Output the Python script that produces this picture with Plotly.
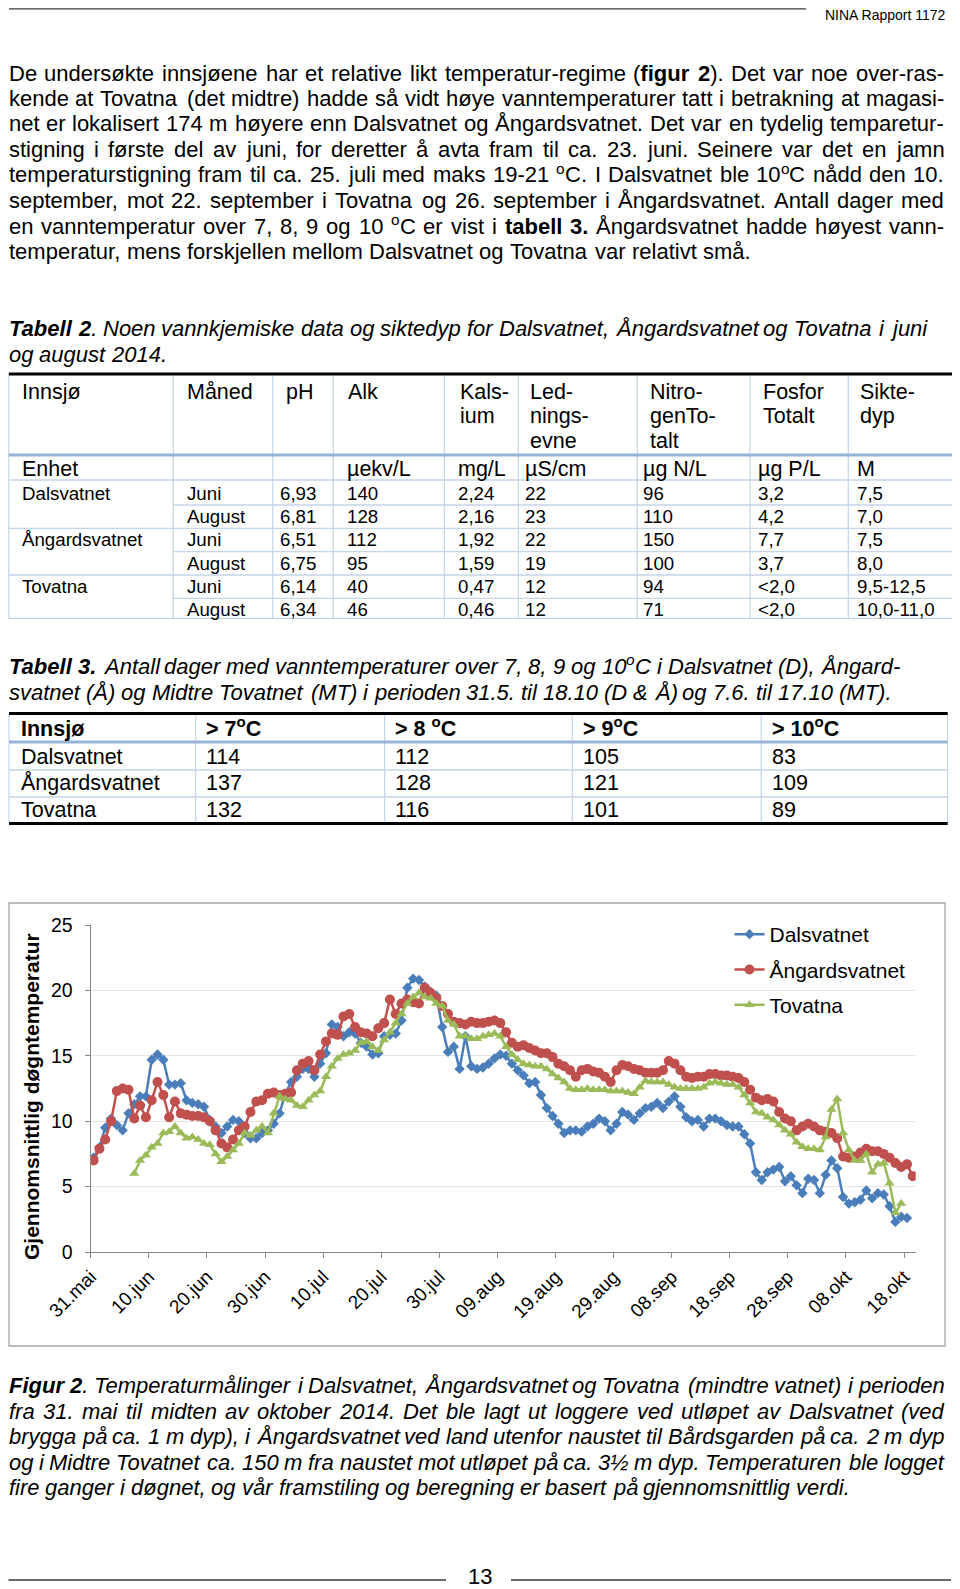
import re
import pandas as pd
import plotly.graph_objects as go

W, H = 960, 1589          # page size in the reference
OFF = 8                   # the browser body margin offsets the figure by 8 px
FW, FH = W - OFF, H - OFF  # figure size so that it exactly fills the window
FONT = "Liberation Sans, Arial, sans-serif"

# ---------------- chart data (daily mean water temperature, degC) ----------------
series_names = ["Dalsvatnet", "Ångardsvatnet", "Tovatna"]
series_colors = ["#4A7EBB", "#C0504D", "#9BBB59"]
series_symbols = ["diamond", "circle", "triangle-up"]

dals_start = "2014-05-31"
dals = [7.2, 8.0, 9.5, 10.2, 9.7, 9.3, 10.6, 11.3, 11.9, 11.9,
        14.7, 15.1, 14.7, 12.8, 12.8, 12.9, 11.6, 11.4, 11.3, 11.1,
        10.1, 9.6, 9.1, 9.6, 10.1, 10.0, 9.1, 8.7, 8.7, 9.1,
        9.3, 9.8, 10.6, 12.1, 13.0, 13.4, 14.0, 14.0, 13.4, 14.4,
        15.2, 17.4, 17.2, 16.5, 16.8, 16.7, 16.0, 15.7, 15.1, 15.2,
        16.5, 16.6, 16.7, 17.7, 20.2, 20.9, 20.8, 20.3, 19.9, 19.6,
        17.2, 15.3, 15.7, 14.0, 16.5, 14.2, 14.0, 14.1, 14.4, 14.8,
        15.1, 15.0, 14.4, 13.9, 13.5, 12.9, 13.0, 12.0, 11.0, 10.4,
        9.8, 9.1, 9.3, 9.3, 9.2, 9.6, 9.8, 10.2, 10.0, 9.3,
        9.8, 10.7, 10.5, 10.1, 10.6, 11.0, 11.1, 11.4, 11.0, 11.5,
        11.9, 11.1, 10.3, 10.0, 10.1, 9.6, 10.2, 10.2, 10.0, 9.7,
        9.6, 9.6, 9.0, 8.3, 6.1, 5.5, 6.1, 6.3, 6.5, 5.4,
        5.8, 5.1, 4.5, 5.6, 5.5, 4.5, 5.9, 7.0, 6.4, 4.2,
        3.7, 3.8, 4.0, 4.7, 4.1, 4.5, 4.4, 3.5, 2.3, 2.7,
        2.6]

angard_start = "2014-05-31"
angard = [7.0, 7.9, 8.6, 10.0, 12.3, 12.5, 12.4, 10.2, 11.2, 10.3,
          11.6, 13.0, 12.0, 10.3, 11.5, 10.6, 10.5, 10.4, 10.4, 10.3,
          10.0, 9.3, 8.3, 8.0, 8.6, 9.3, 9.6, 10.7, 11.5, 11.6,
          12.1, 12.2, 12.0, 12.1, 12.2, 13.9, 14.4, 14.6, 13.9, 15.1,
          16.1, 16.7, 16.6, 18.0, 18.2, 17.2, 16.8, 16.7, 16.5, 17.1,
          17.5, 19.3, 18.2, 19.0, 19.3, 19.1, 19.0, 20.2, 19.8, 19.4,
          18.8, 18.2, 17.6, 17.5, 17.4, 17.6, 17.5, 17.5, 17.6, 17.7,
          17.5, 16.8, 16.0, 15.7, 15.8, 15.6, 15.4, 15.2, 15.2, 14.9,
          14.4, 14.2, 13.9, 13.4, 13.9, 14.0, 13.8, 13.7, 13.4, 13.0,
          13.9, 14.3, 14.2, 14.0, 13.9, 13.7, 13.7, 13.7, 13.9, 14.6,
          14.4, 13.9, 13.4, 13.3, 13.4, 13.4, 13.6, 13.6, 13.5, 13.5,
          13.4, 13.3, 13.0, 12.4, 11.8, 11.6, 11.7, 11.5, 10.7, 10.2,
          10.0, 9.3, 9.6, 9.8, 9.6, 9.3, 9.2, 9.1, 8.7, 7.3,
          7.2, 7.3, 7.6, 7.9, 7.7, 7.7, 7.5, 7.2, 6.8, 6.5,
          6.7, 5.8]

tova_start = "2014-06-07"
tova = [6.0, 7.0, 7.4, 8.0, 8.3, 9.1, 9.2, 9.6, 9.1, 8.7,
        8.8, 8.6, 8.3, 8.2, 7.5, 6.9, 7.3, 7.8, 8.3, 9.1,
        8.9, 9.3, 9.6, 9.1, 10.6, 11.9, 11.7, 11.6, 11.2, 11.1,
        11.6, 12.0, 12.3, 13.4, 14.2, 14.8, 15.1, 15.2, 15.4, 16.0,
        16.1, 15.7, 15.4, 16.2, 16.8, 17.5, 18.2, 19.0, 19.5, 19.8,
        19.5, 19.4, 19.0, 18.8, 17.7, 17.4, 16.5, 16.5, 16.3, 16.3,
        16.5, 16.6, 16.7, 16.5, 15.7, 15.1, 14.7, 14.4, 14.3, 14.2,
        14.2, 14.0, 13.6, 13.3, 13.0, 12.5, 12.4, 12.4, 12.5, 12.4,
        12.4, 12.4, 12.3, 12.3, 12.3, 12.2, 12.1, 12.6, 13.1, 13.0,
        13.0, 13.0, 12.8, 12.6, 12.5, 12.5, 12.5, 12.5, 12.6, 12.9,
        13.0, 12.9, 12.8, 12.8, 12.6, 12.0, 11.4, 10.7, 10.6, 10.3,
        10.1, 9.7, 9.3, 9.0, 8.4, 8.05, 7.9, 7.9, 7.8, 8.8,
        10.9, 11.7, 9.1, 7.8, 7.0, 7.0, 7.5, 6.1, 6.7, 6.8,
        5.25, 3.0, 3.7]

x_tick_dates = ["2014-05-31", "2014-06-10", "2014-06-20", "2014-06-30", "2014-07-10",
                "2014-07-20", "2014-07-30", "2014-08-09", "2014-08-19", "2014-08-29",
                "2014-09-08", "2014-09-18", "2014-09-28", "2014-10-08", "2014-10-18"]
x_tick_labels = ["31.mai", "10.jun", "20.jun", "30.jun", "10.jul", "20.jul", "30.jul",
                 "09.aug", "19.aug", "29.aug", "08.sep", "18.sep", "28.sep", "08.okt", "18.okt"]
x_range = ["2014-05-31", "2014-10-20"]
y_ticks = [0, 5, 10, 15, 20, 25]
y_title = "Gjennomsnittlig døgntemperatur"

# ---------------- table 2 data ----------------
tab2_header = [["Innsjø"], ["Måned"], ["pH"], ["Alk"], ["Kals-", "ium"],
               ["Led-", "nings-", "evne"], ["Nitro-", "genTo-", "talt"],
               ["Fosfor", "Totalt"], ["Sikte-", "dyp"]]
tab2_units = ["Enhet", "", "", "µekv/L", "mg/L", "µS/cm", "µg N/L", "µg P/L", "M"]
tab2_lakes = ["Dalsvatnet", "", "Ångardsvatnet", "", "Tovatna", ""]
tab2_months = ["Juni", "August", "Juni", "August", "Juni", "August"]
tab2_ph = ["6,93", "6,81", "6,51", "6,75", "6,14", "6,34"]
tab2_alk = ["140", "128", "112", "95", "40", "46"]
tab2_ca = ["2,24", "2,16", "1,92", "1,59", "0,47", "0,46"]
tab2_cond = ["22", "23", "22", "19", "12", "12"]
tab2_ntot = ["96", "110", "150", "100", "94", "71"]
tab2_ptot = ["&lt;2,0" if v.startswith("<") else v for v in ["3,2", "4,2", "7,7", "3,7", "<2,0", "<2,0"]]
tab2_secchi = ["7,5", "7,0", "7,5", "8,0", "9,5-12,5", "10,0-11,0"]

# ---------------- table 3 data ----------------
tab3_header = ["Innsjø", "&gt; 7<sup>o</sup>C", "&gt; 8 <sup>o</sup>C", "&gt; 9<sup>o</sup>C", "&gt; 10<sup>o</sup>C"]
tab3_lakes = ["Dalsvatnet", "Ångardsvatnet", "Tovatna"]
tab3_gt7 = [114, 137, 132]
tab3_gt8 = [112, 128, 116]
tab3_gt9 = [105, 121, 101]
tab3_gt10 = [83, 109, 89]

# ---------------- text ----------------
header_text = "NINA Rapport 1172"
para_lines = [
    "De undersøkte innsjøene har et relative likt temperatur-regime (<b>figur 2</b>). Det var noe over-ras-",
    "kende at Tovatna (det midtre) hadde så vidt høye vanntemperaturer tatt i betrakning at magasi-",
    "net er lokalisert 174 m høyere enn Dalsvatnet og Ångardsvatnet. Det var en tydelig temparetur-",
    "stigning i første del av juni, for deretter å avta fram til ca. 23. juni. Seinere var det en jamn",
    "temperaturstigning fram til ca. 25. juli med maks 19-21 <sup>o</sup>C. I Dalsvatnet ble 10<sup>o</sup>C nådd den 10.",
    "september, mot 22. september i Tovatna og 26. september i Ångardsvatnet. Antall dager med",
    "en vanntemperatur over 7, 8, 9 og 10 <sup>o</sup>C er vist i <b>tabell 3.</b> Ångardsvatnet hadde høyest vann-",
    "temperatur, mens forskjellen mellom Dalsvatnet og Tovatna var relativt små.",
]
tab2_caption = [
    "<b><i>Tabell 2</i></b><i>. Noen vannkjemiske data og siktedyp for Dalsvatnet, Ångardsvatnet og Tovatna i juni</i>",
    "<i>og august 2014.</i>",
]
tab3_caption = [
    "<b><i>Tabell 3.</i></b><i> Antall dager med vanntemperaturer over 7, 8, 9 og 10<sup>o</sup>C i Dalsvatnet (D), Ångard-</i>",
    "<i>svatnet (Å) og Midtre Tovatnet (MT) i perioden 31.5. til 18.10 (D & Å) og 7.6. til 17.10 (MT).</i>",
]
fig_caption = [
    "<b><i>Figur 2</i></b><i>. Temperaturmålinger i Dalsvatnet, Ångardsvatnet og Tovatna (mindtre vatnet) i perioden</i>",
    "<i>fra 31. mai til midten av oktober 2014. Det ble lagt ut loggere ved utløpet av Dalsvatnet (ved</i>",
    "<i>brygga på ca. 1 m dyp), i Ångardsvatnet ved land utenfor naustet til Bårdsgarden på ca. 2 m dyp</i>",
    "<i>og i Midtre Tovatnet ca. 150 m fra naustet mot utløpet på ca. 3½ m dyp. Temperaturen ble logget</i>",
    "<i>fire ganger i døgnet, og vår framstiling og beregning er basert på gjennomsnittlig verdi.</i>",
]
page_number = "13"

# ---------------- font metrics (Arial, 1/1000 em) for justification ----------------
REG = {' ': 278, '!': 278, '(': 333, ')': 333, ',': 278, '-': 333, '.': 278, '/': 278,
       ':': 278, ';': 278, '<': 584, '>': 584, '&': 667, '½': 834, 'µ': 556, '°': 400,
       'å': 556, 'ø': 611, 'æ': 889, 'Å': 667, 'Ø': 778, 'Æ': 1000}
for c in "0123456789":
    REG[c] = 556
REG.update(dict(A=667, B=667, C=722, D=722, E=667, F=611, G=778, H=722, I=278, J=500, K=667,
                L=556, M=833, N=722, O=778, P=667, Q=778, R=722, S=667, T=611, U=722, V=667,
                W=944, X=667, Y=667, Z=611))
REG.update(dict(a=556, b=556, c=500, d=556, e=556, f=278, g=556, h=556, i=222, j=222, k=500,
                l=222, m=833, n=556, o=556, p=556, q=556, r=333, s=500, t=278, u=556, v=500,
                w=722, x=500, y=500, z=500))
BOLD = dict(REG)
BOLD.update(dict(a=556, b=611, c=556, d=611, e=556, f=333, g=611, h=611, i=278, j=278, k=556,
                 l=278, m=889, n=611, o=611, p=611, q=611, r=389, s=556, t=333, u=611, v=556,
                 w=778, x=556, y=556, z=500, A=722, B=722, F=611, T=611))

annots = []
shapes = []


def px(x):
    return (x - OFF) / FW


def py(y):
    return 1 - (y - OFF) / FH


def txt(x, y, s, size=22, anchor="left", bold=False, angle=0, color="black"):
    if bold:
        s = "<b>" + s + "</b>"
    if "<sup>" in s and angle == 0:
        y -= 0.12 * size
    annots.append(dict(x=px(x), y=py(y), xref="paper", yref="paper", text=s, showarrow=False,
                       xanchor=anchor, yanchor="middle", borderpad=0, borderwidth=0,
                       textangle=angle, font=dict(size=size, color=color, family=FONT)))


def seg(x0, y0, x1, y1, color, width):
    shapes.append(dict(type="line", xref="paper", yref="paper", x0=px(x0), y0=py(y0),
                       x1=px(x1), y1=py(y1), line=dict(color=color, width=width)))


TAG = re.compile(r"(<[^>]+>)")


def parse_words(markup):
    bold = ital = sup = False
    words = [[]]
    for tok in TAG.split(markup):
        if not tok:
            continue
        if tok.startswith("<"):
            t = tok.lower()
            if t == "<b>":
                bold = True
            elif t == "</b>":
                bold = False
            elif t == "<i>":
                ital = True
            elif t == "</i>":
                ital = False
            elif t == "<sup>":
                sup = True
            elif t == "</sup>":
                sup = False
            continue
        for ch in tok:
            if ch == " ":
                if words[-1]:
                    words.append([])
            else:
                words[-1].append((ch, bold, ital, sup))
    if not words[-1]:
        words.pop()
    return words


def runs_html(chars):
    runs = []
    for ch, b, i, s in chars:
        if runs and runs[-1][0] == (b, i):
            runs[-1][1] += ch
        else:
            runs.append([(b, i), ch])
    out = ""
    for (b, i), t in runs:
        t = t.replace("&", "&amp;").replace("<", "&lt;").replace(">", "&gt;")
        if i:
            t = "<i>" + t + "</i>"
        if b:
            t = "<b>" + t + "</b>"
        out += t
    return out


def char_w(ch, b, size):
    return (BOLD if b else REG).get(ch, 556) / 1000.0 * size


def word_width(word, size):
    return sum(char_w(ch, b, size * (0.7 if s else 1.0)) for ch, b, i, s in word)


def place_word(word, x, y, size):
    # split into normal / superscript pieces, each drawn as its own text
    pieces = []
    for item in word:
        if pieces and pieces[-1][0] == item[3]:
            pieces[-1][1].append(item)
        else:
            pieces.append([item[3], [item]])
    for is_sup, chars in pieces:
        sz = size * 0.7 if is_sup else size
        yy = y - 0.29 * size if is_sup else y
        txt(x, yy, runs_html(chars), sz)
        x += sum(char_w(ch, b, sz) for ch, b, i, s in chars)


def text_line(markup, y, x0=8.5, x1=944.0, size=22, justify=True):
    words = parse_words(markup)
    widths = [word_width(w, size) for w in words]
    gap = 0.278 * size
    if justify and len(words) > 1:
        gap = (x1 - x0 - sum(widths)) / (len(words) - 1)
    x = x0
    for w, wd in zip(words, widths):
        place_word(w, x, y, size)
        x += wd + gap


# ---------------- page header ----------------
seg(9, 8.8, 806, 8.8, "#3a3a3a", 1.3)
txt(946, 15.0, header_text, size=14, anchor="right")

# ---------------- paragraph ----------------
para_y = [73.3, 98.6, 124.0, 149.5, 175.0, 200.5, 226.0, 251.5]
for i, (ln, yy) in enumerate(zip(para_lines, para_y)):
    text_line(ln, yy, justify=(i < len(para_lines) - 1))

# ---------------- table 2 ----------------
for ln, yy in zip(tab2_caption, [328.5, 354.0]):
    text_line(ln, yy, justify=False)

t2_left, t2_right = 8.8, 953.3
t2_cols = [8.8, 173.3, 272.7, 333.3, 444.3, 518.3, 637.3, 750.0, 848.3, 953.3]
t2_hx = [21.7, 186.7, 286.0, 348.3, 460.0, 530.0, 650.0, 762.7, 860.0]
t2_dx = [21.7, 186.7, 279.5, 346.7, 458.0, 525.0, 643.3, 758.3, 856.7]
t2_head_y = [391.7, 416.5, 441.0]
t2_unit_y = 469.3
t2_row_y = [493.3, 516.6, 540.0, 563.3, 586.6, 609.3]
light = "#C5D5E8"
for xc in t2_cols:
    seg(xc, 375, xc, 618.3, light, 1.2)
for y_line, full in [(480, True), (505, False), (528.3, True), (551.7, False), (575, True), (598.3, False), (618.3, True)]:
    seg(t2_left if full else t2_cols[1], y_line, t2_right, y_line, light, 1.3)
seg(t2_left, 455, t2_right, 455, "#95B3D7", 3)
seg(t2_left, 374, t2_right, 374, "black", 3)
for c, lines in enumerate(tab2_header):
    for k, s in enumerate(lines):
        txt(t2_hx[c], t2_head_y[k], s, size=21.5)
for c, s in enumerate(tab2_units):
    if s:
        txt(t2_hx[0] if c == 0 else t2_dx[c], t2_unit_y, s, size=21.5)
t2_cells = [tab2_lakes, tab2_months, tab2_ph, tab2_alk, tab2_ca, tab2_cond, tab2_ntot, tab2_ptot, tab2_secchi]
for c, col in enumerate(t2_cells):
    for r, s in enumerate(col):
        if s:
            txt(t2_dx[c], t2_row_y[r], s, size=18.7)

# ---------------- table 3 ----------------
for ln, yy in zip(tab3_caption, [666.0, 692.5]):
    text_line(ln, yy, justify=False)
t3_cols = [9, 195.7, 384.6, 572.3, 761.2, 947.7]
t3_tx = [21.0, 206.0, 394.5, 583.0, 771.5]
for xc in t3_cols:
    seg(xc, 715, xc, 822, light, 1.2)
for y_line in [770, 797]:
    seg(9, y_line, 947.7, y_line, light, 1.3)
seg(9, 742, 947.7, 742, "#95B3D7", 3)
seg(9, 713.5, 947.7, 713.5, "black", 3.2)
seg(9, 823.5, 947.7, 823.5, "black", 3.2)
for c, s in enumerate(tab3_header):
    txt(t3_tx[c], 729.5, s, size=21.5, bold=True)
t3_row_y = [756.7, 783.3, 809.7]
t3_cells = [tab3_lakes, tab3_gt7, tab3_gt8, tab3_gt9, tab3_gt10]
for c, col in enumerate(t3_cells):
    for r, v in enumerate(col):
        txt(t3_tx[c], t3_row_y[r], str(v), size=21.5)

# ---------------- chart ----------------
shapes.append(dict(type="rect", xref="paper", yref="paper", x0=px(9), x1=px(945), y0=py(1346), y1=py(903),
                   line=dict(color="#A6A6A6", width=1.3), fillcolor="rgba(0,0,0,0)", layer="below"))

fig = go.Figure()
series = [(dals_start, dals), (angard_start, angard), (tova_start, tova)]
sizes = [8, 10, 9]
for k, ((start, vals), name) in enumerate(zip(series, series_names)):
    xs = pd.date_range(start, periods=len(vals), freq="D") + pd.Timedelta(hours=12)
    fig.add_trace(go.Scatter(x=xs, y=vals, name=name, mode="lines+markers", legendgroup=name,
                             line=dict(color=series_colors[k], width=2.5),
                             marker=dict(symbol=series_symbols[k], size=sizes[k], color=series_colors[k])))

txt(31, 1097, "<b>" + y_title + "</b>", size=21, anchor="center", angle=-90)

# ---------------- figure caption & footer ----------------
cap_y = [1385.5, 1411.0, 1436.5, 1462.0, 1487.8]
for i, (ln, yy) in enumerate(zip(fig_caption, cap_y)):
    text_line(ln, yy, justify=(i < len(fig_caption) - 1))
seg(8.5, 1580, 446, 1580, "#3a3a3a", 1.3)
seg(511, 1580, 951, 1580, "#3a3a3a", 1.3)
txt(480, 1576, page_number, size=22, anchor="center")

axis_col = "#868686"
fig.update_layout(
    width=FW, height=FH, autosize=False,
    margin=dict(l=0, r=0, t=0, b=0, pad=0, autoexpand=False),
    paper_bgcolor="white", plot_bgcolor="white",
    font=dict(family=FONT, color="black"),
    xaxis=dict(domain=[px(90.7), px(915.7)], type="date", range=x_range, automargin=False,
               tickmode="array", tickvals=x_tick_dates, ticktext=x_tick_labels,
               tickangle=-45, tickfont=dict(size=19, color="black"),
               showgrid=False, showline=True, linecolor=axis_col, linewidth=1.3,
               ticks="outside", ticklen=5, tickcolor=axis_col, tickwidth=1.2, zeroline=False),
    yaxis=dict(domain=[py(1252), py(925)], range=[0, 25], tickmode="array", tickvals=y_ticks,
               automargin=False,
               tickfont=dict(size=19.5, color="black"), showgrid=True, gridcolor="#E4E4E4", gridwidth=1,
               showline=True, linecolor=axis_col, linewidth=1.3, ticks="outside", ticklen=5,
               tickcolor=axis_col, tickwidth=1.2, zeroline=False, ticklabelstandoff=8),
    legend=dict(x=px(729.5), y=py(914), xanchor="left", yanchor="top", font=dict(size=21, color="black"),
                bgcolor="rgba(0,0,0,0)", borderwidth=0, traceorder="grouped", tracegroupgap=5),
    showlegend=True,
    annotations=annots, shapes=shapes,
)

fig.write_html("out.html")
